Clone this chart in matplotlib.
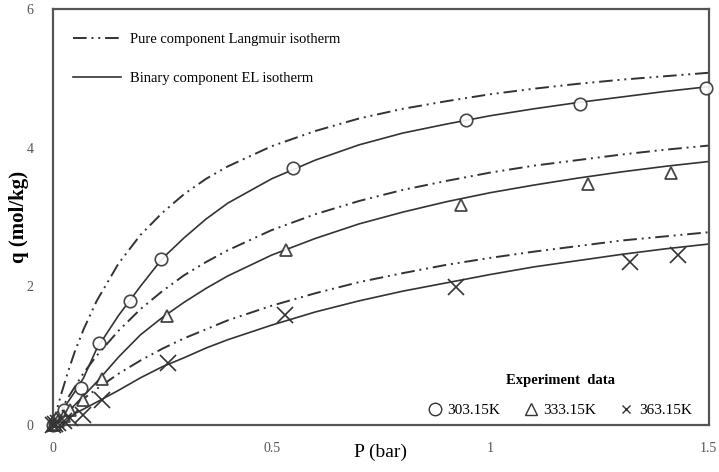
import matplotlib
matplotlib.use("Agg")
import matplotlib.pyplot as plt
from matplotlib.lines import Line2D

plt.rcParams['font.family'] = ['Liberation Serif', 'DejaVu Serif']

# model curves
p_grid = [0, 0.01, 0.02, 0.035, 0.05, 0.07, 0.1, 0.15, 0.2, 0.25, 0.3, 0.35, 0.4,
          0.5, 0.6, 0.7, 0.8, 0.9, 1.0, 1.1, 1.2, 1.3, 1.4, 1.5]
pure_303 = [0, 0.25, 0.47, 0.78, 1.06, 1.38, 1.79, 2.33, 2.74, 3.06, 3.33, 3.55, 3.73,
            4.02, 4.24, 4.42, 4.56, 4.67, 4.77, 4.85, 4.92, 4.98, 5.03, 5.08]
pure_333 = [0, 0.12, 0.24, 0.40, 0.55, 0.75, 1.00, 1.36, 1.67, 1.93, 2.16, 2.35, 2.52,
            2.81, 3.04, 3.23, 3.39, 3.52, 3.64, 3.74, 3.82, 3.90, 3.97, 4.03]
pure_363 = [0, 0.06, 0.12, 0.20, 0.28, 0.38, 0.52, 0.74, 0.93, 1.10, 1.25, 1.38, 1.51,
            1.72, 1.90, 2.06, 2.19, 2.31, 2.41, 2.50, 2.58, 2.66, 2.72, 2.78]
el_303 = [0, 0.10, 0.20, 0.34, 0.48, 0.68, 1.10, 1.58, 2.00, 2.40, 2.70, 2.97, 3.20,
          3.55, 3.82, 4.04, 4.21, 4.34, 4.46, 4.56, 4.65, 4.73, 4.81, 4.88]
el_333 = [0, 0.05, 0.11, 0.20, 0.29, 0.42, 0.62, 0.98, 1.30, 1.55, 1.77, 1.97, 2.15,
          2.45, 2.69, 2.90, 3.07, 3.22, 3.35, 3.46, 3.56, 3.65, 3.73, 3.80]
el_363 = [0, 0.03, 0.066, 0.115, 0.165, 0.23, 0.33, 0.50, 0.68, 0.84, 0.97, 1.11, 1.23,
          1.44, 1.63, 1.79, 1.93, 2.05, 2.17, 2.28, 2.37, 2.46, 2.54, 2.61]

# experiment data
p_303 = [0, 0.004, 0.009, 0.015, 0.025, 0.063, 0.106, 0.176, 0.248, 0.548, 0.945, 1.205, 1.493]
q_303 = [0, 0.03, 0.07, 0.12, 0.22, 0.54, 1.18, 1.79, 2.40, 3.70, 4.40, 4.63, 4.86]
p_333 = [0, 0.005, 0.012, 0.025, 0.04, 0.069, 0.113, 0.261, 0.533, 0.934, 1.224, 1.414]
q_333 = [0, 0.02, 0.06, 0.13, 0.22, 0.36, 0.67, 1.57, 2.52, 3.17, 3.47, 3.63]
p_363 = [0, 0.005, 0.012, 0.025, 0.04, 0.069, 0.113, 0.263, 0.53, 0.922, 1.321, 1.43]
q_363 = [0, 0.01, 0.03, 0.06, 0.10, 0.14, 0.36, 0.89, 1.58, 1.99, 2.35, 2.45]

temps = ["303.15K", "333.15K", "363.15K"]

col = "#333333"
dd = (0, (7, 2.5, 1, 2.5, 1, 2.5))

fig = plt.figure(figsize=(7.19, 4.72), dpi=100)
ax = fig.add_axes([0.0737, 0.0996, 0.912, 0.8814])

for q in (pure_303, pure_333, pure_363):
    ax.plot(p_grid, q, color=col, lw=1.4, linestyle=dd)
for q in (el_303, el_333, el_363):
    ax.plot(p_grid, q, color=col, lw=1.2)

ax.plot(p_303, q_303, 'o', mfc='white', mec=col, ms=9, mew=1.2, clip_on=False, zorder=3, alpha=0.9)
ax.plot(p_333, q_333, '^', mfc='white', mec=col, ms=8, mew=1.3, clip_on=False, zorder=3, alpha=0.9)
ax.plot(p_363, q_363, 'x', color=col, ms=11, mew=1.2, clip_on=False, zorder=3)

ax.set_xlim(0, 1.5)
ax.set_ylim(0, 6)
ax.set_xticks([0, 0.5, 1, 1.5])
ax.set_xticklabels(["0", "0.5", "1", "1.5"])
ax.set_yticks([0, 2, 4, 6])
ax.tick_params(length=0, labelsize=10, colors="#555555")
ax.tick_params(axis='x', pad=12)
ax.tick_params(axis='y', pad=14)
for s in ax.spines.values():
    s.set_color("#555555")
    s.set_linewidth(1.6)

ax.set_xlabel("P (bar)", fontsize=14)
ax.xaxis.set_label_coords(0.5, -0.045)
ax.set_ylabel("q (mol/kg)", fontsize=15, fontweight='bold')
ax.yaxis.set_label_coords(-0.036, 0.5)

h1 = [Line2D([], [], color=col, lw=1.4, linestyle=dd),
      Line2D([], [], color=col, lw=1.2)]
leg1 = ax.legend(h1, ["Pure component Langmuir isotherm", "Binary component EL isotherm"],
                 loc='upper left', bbox_to_anchor=(0.01, 0.975), frameon=False,
                 fontsize=10.5, handlelength=3.3, labelspacing=1.8, handletextpad=0.6)
ax.add_artist(leg1)

h2 = [Line2D([], [], marker='o', ls='', mfc='white', mec=col, ms=9),
      Line2D([], [], marker='^', ls='', mfc='white', mec=col, ms=8),
      Line2D([], [], marker='x', ls='', color=col, ms=6)]
leg2 = ax.legend(h2, temps, loc='lower right', bbox_to_anchor=(0.995, -0.015), ncol=3,
                 frameon=False, fontsize=11, title="Experiment  data",
                 handlelength=0.8, handletextpad=0.4, columnspacing=1.6)
leg2.get_title().set_fontsize(10.5)
leg2.get_title().set_fontweight('bold')
leg2._legend_box.sep = 12

fig.savefig("out.png", dpi=100)
